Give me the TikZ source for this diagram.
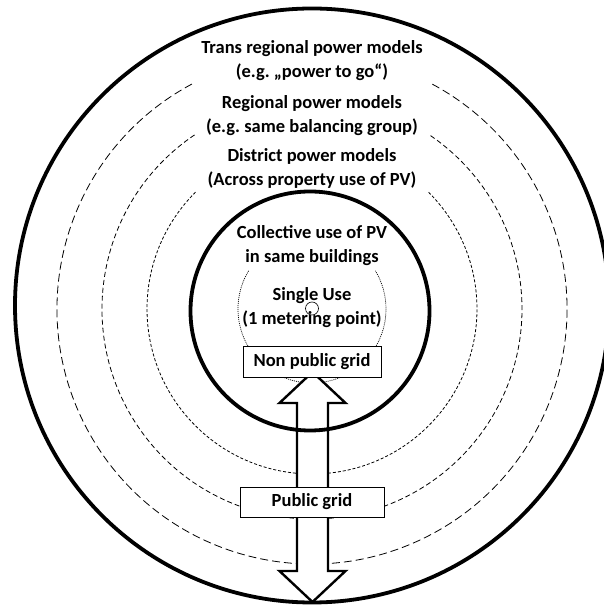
\documentclass[tikz,border=0pt]{standalone}
\usepackage{fontspec}
\setmainfont{Carlito}
\frenchspacing
\begin{document}
\begin{tikzpicture}[x=1pt,y=1pt,
  lbl/.style={font=\fontsize{18.5}{24}\selectfont\bfseries, align=center, inner sep=0pt},
  gridbox/.style={draw, fill=white, line width=0.8pt, inner sep=0pt, font=\fontsize{18.5}{22}\selectfont\bfseries},
  thickring/.style={line width=3.8pt},
  dashA/.style={line width=0.8pt, dash pattern=on 8pt off 4pt},
  dashB/.style={line width=0.8pt, dash pattern=on 5pt off 3pt},
  dashC/.style={line width=0.8pt, dash pattern=on 3pt off 2pt},
  dotD/.style={line width=0.7pt, dash pattern=on 1pt off 1pt},
  bigarrow/.style={draw, fill=white, line width=2.4pt, line join=miter}]
\useasboundingbox (0,0) rectangle (604,610);
\clip (0,0) rectangle (604,610);
% centres
\coordinate (cO) at (312,304.5);
\coordinate (cD) at (312,301);
\coordinate (cI) at (310,299);
% outer ring
\draw[thickring] (cO) circle[radius=297];
% dashed rings
\draw[dashA] (cD) ++(118.1:255) arc[start angle=118.1, end angle=421.9, radius=255];
\draw[dashB] (cD) ++(124.0:210) arc[start angle=124.0, end angle=416.0, radius=210];
\draw[dashC] (cD) ++(134.9:165) arc[start angle=134.9, end angle=405.1, radius=165];
\draw[dotD] (cD) ++(149:74) arc[start angle=149, end angle=391, radius=74];
% double arrow
\coordinate (tipT) at (312.5,238);
\coordinate (tipB) at (312.5,8);
\draw[bigarrow] (tipT) -- (345.5,207) -- (328,207) -- (328,39) -- (345.5,39) -- (tipB)
  -- (279.5,39) -- (297,39) -- (297,207) -- (279.5,207) -- cycle;
% inner ring
\draw[thickring] (cI) circle[radius=119.5];
% labels
\node[lbl] (trans) at (312,549) {Trans regional power models\\(e.g. „power to go“)};
\node[lbl] (regional) at (312,494) {Regional power models\\(e.g. same balancing group)};
\node[lbl] (district) at (312,441.5) {District power models\\(Across property use of PV)};
\node[lbl] (collective) at (312,364.5) {Collective use of PV\\in same buildings};
\node[lbl] (single) at (312,302.5) {Single Use\\(1 metering point)};
\node[gridbox, minimum width=138pt, minimum height=31pt] (nonpublic) at (312,248.5) {Non public grid};
\node[gridbox, minimum width=144pt, minimum height=30pt] (public) at (312,108) {Public grid};
\draw[line width=0.6pt] (312,301.5) circle[radius=6.5];
\end{tikzpicture}
\end{document}
